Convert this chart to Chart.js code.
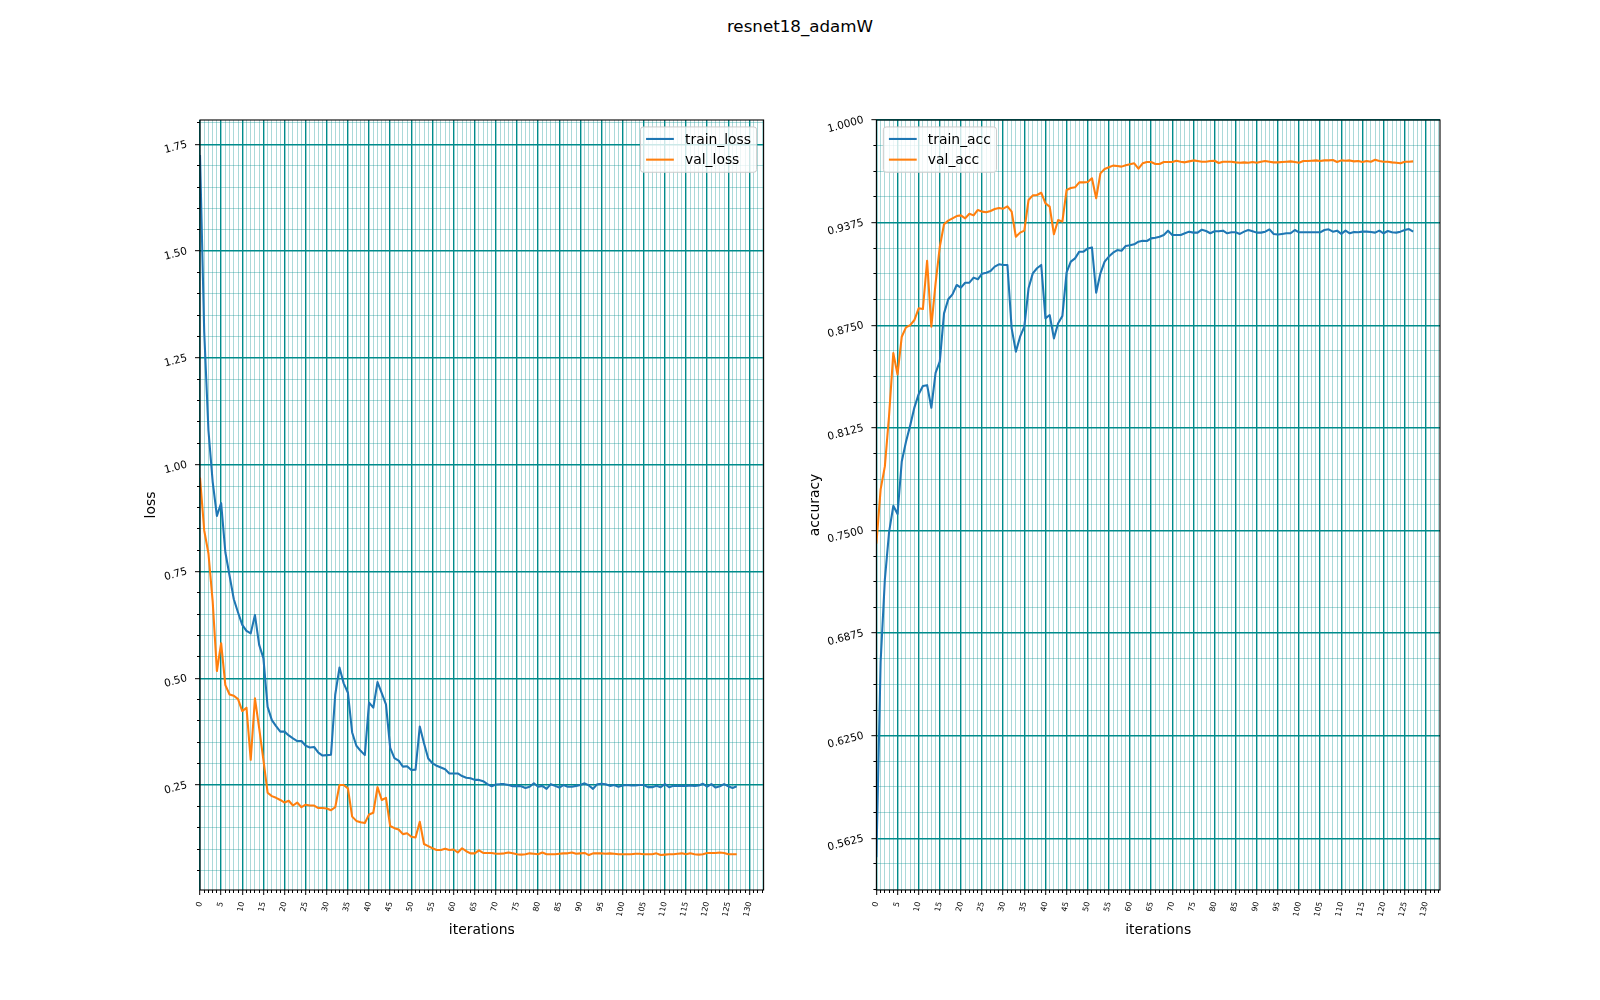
<!DOCTYPE html>
<html>
<head>
<meta charset="utf-8">
<script src="https://cdn.jsdelivr.net/npm/chart.js@4.4.1/dist/chart.umd.min.js"></script>
<style>
  body { margin: 0; background: #fff; }
  #fig { position: relative; width: 1600px; height: 1000px; font-family: 'DejaVu Sans', sans-serif; }
  #title { position: absolute; top: 16px; left: 0; width: 1600px; text-align: center; font-size: 16.7px; line-height: 20px; color: #000; }
  .panel { position: absolute; top: 0; width: 800px; height: 1000px; }
</style>
</head>
<body>
<div id="fig">
  <div id="title">resnet18_adamW</div>
  <div class="panel" style="left:0"><canvas id="loss-chart" width="800" height="1000"></canvas></div>
  <div class="panel" style="left:800px"><canvas id="acc-chart" width="800" height="1000"></canvas></div>
</div>
<script>
// values
const trainLoss = [1.725, 1.31, 1.08, 0.96, 0.88, 0.91, 0.795, 0.74, 0.685, 0.654,
  0.625, 0.611, 0.605, 0.648, 0.578, 0.547, 0.433, 0.402, 0.388, 0.375,
  0.375, 0.366, 0.359, 0.353, 0.353, 0.342, 0.338, 0.339, 0.326, 0.319,
  0.320, 0.321, 0.462, 0.525, 0.488, 0.466, 0.373, 0.342, 0.330, 0.320,
  0.443, 0.431, 0.491, 0.465, 0.439, 0.337, 0.313, 0.307, 0.293, 0.294,
  0.285, 0.286, 0.387, 0.348, 0.312, 0.301, 0.295, 0.291, 0.287, 0.277,
  0.277, 0.277, 0.271, 0.267, 0.266, 0.262, 0.262, 0.259, 0.252, 0.247,
  0.251, 0.252, 0.252, 0.250, 0.247, 0.248, 0.247, 0.243, 0.246, 0.254,
  0.246, 0.248, 0.241, 0.252, 0.248, 0.244, 0.250, 0.246, 0.246, 0.248,
  0.250, 0.254, 0.249, 0.241, 0.252, 0.253, 0.252, 0.248, 0.250, 0.246,
  0.249, 0.250, 0.249, 0.249, 0.250, 0.250, 0.245, 0.245, 0.248, 0.245,
  0.252, 0.245, 0.248, 0.248, 0.248, 0.248, 0.249, 0.248, 0.249, 0.253,
  0.246, 0.252, 0.244, 0.247, 0.252, 0.247, 0.243, 0.247];

const valLoss = [0.97, 0.846, 0.792, 0.68, 0.517, 0.582, 0.484, 0.462, 0.459, 0.451,
  0.423, 0.431, 0.309, 0.453, 0.383, 0.309, 0.232, 0.224, 0.220, 0.215,
  0.209, 0.213, 0.202, 0.209, 0.198, 0.204, 0.202, 0.202, 0.196, 0.196,
  0.195, 0.191, 0.198, 0.250, 0.250, 0.242, 0.176, 0.166, 0.163, 0.161,
  0.181, 0.185, 0.245, 0.215, 0.220, 0.154, 0.149, 0.146, 0.135, 0.137,
  0.129, 0.127, 0.164, 0.112, 0.107, 0.102, 0.098, 0.098, 0.101, 0.098,
  0.099, 0.092, 0.102, 0.095, 0.090, 0.090, 0.097, 0.091, 0.091, 0.091,
  0.089, 0.089, 0.090, 0.092, 0.090, 0.088, 0.087, 0.088, 0.090, 0.089,
  0.088, 0.092, 0.088, 0.088, 0.088, 0.089, 0.090, 0.090, 0.092, 0.089,
  0.090, 0.091, 0.086, 0.090, 0.090, 0.090, 0.089, 0.090, 0.089, 0.088,
  0.088, 0.088, 0.088, 0.089, 0.089, 0.088, 0.088, 0.088, 0.090, 0.086,
  0.087, 0.088, 0.088, 0.089, 0.090, 0.088, 0.090, 0.088, 0.087, 0.088,
  0.091, 0.091, 0.091, 0.092, 0.091, 0.088, 0.088, 0.088];

const trainAcc = [0.551, 0.670, 0.720, 0.749, 0.765, 0.760, 0.792, 0.804, 0.814, 0.825,
  0.833, 0.838, 0.8385, 0.8247, 0.846, 0.853, 0.8822, 0.8908, 0.8938, 0.8995,
  0.8979, 0.9009, 0.9009, 0.9040, 0.9030, 0.9064, 0.9070, 0.9080, 0.9107, 0.9121,
  0.9117, 0.9117, 0.8731, 0.8589, 0.8680, 0.8741, 0.8975, 0.9066, 0.9097, 0.9117,
  0.8792, 0.8812, 0.8670, 0.8762, 0.8806, 0.9072, 0.9137, 0.9157, 0.9198, 0.9198,
  0.9218, 0.9224, 0.8948, 0.9066, 0.9137, 0.9168, 0.9192, 0.9208, 0.9204, 0.9233,
  0.9237, 0.9243, 0.9259, 0.9265, 0.9263, 0.9279, 0.9283, 0.9289, 0.9300, 0.9326,
  0.9300, 0.9300, 0.9300, 0.9310, 0.9320, 0.9314, 0.9314, 0.9332, 0.9324, 0.9310,
  0.9322, 0.9322, 0.9326, 0.9310, 0.9316, 0.9316, 0.9306, 0.9320, 0.9330, 0.9322,
  0.9314, 0.9314, 0.9320, 0.9334, 0.9306, 0.9302, 0.9306, 0.9310, 0.9310, 0.9330,
  0.9316, 0.9316, 0.9316, 0.9316, 0.9316, 0.9316, 0.9330, 0.9334, 0.9320, 0.9326,
  0.9306, 0.9326, 0.9310, 0.9318, 0.9316, 0.9320, 0.9320, 0.9318, 0.9314, 0.9326,
  0.9310, 0.9324, 0.9316, 0.9314, 0.9320, 0.9330, 0.9336, 0.9320];

const valAcc = [0.742, 0.775, 0.789, 0.820, 0.858, 0.845, 0.8680, 0.8737, 0.8751, 0.8782,
  0.8853, 0.8849, 0.9143, 0.8741, 0.9005, 0.9228, 0.9365, 0.9387, 0.9401, 0.9415,
  0.9419, 0.9401, 0.9429, 0.9419, 0.9452, 0.9442, 0.9438, 0.9446, 0.9458, 0.9464,
  0.9460, 0.9474, 0.9442, 0.9289, 0.9314, 0.9326, 0.9513, 0.9541, 0.9543, 0.9557,
  0.9492, 0.9472, 0.9304, 0.9391, 0.9381, 0.9574, 0.9586, 0.9590, 0.9620, 0.9620,
  0.9622, 0.9645, 0.9523, 0.9675, 0.9702, 0.9712, 0.9722, 0.9720, 0.9716, 0.9724,
  0.9730, 0.9736, 0.9704, 0.9736, 0.9744, 0.9744, 0.9732, 0.9732, 0.9744, 0.9744,
  0.9744, 0.9752, 0.9746, 0.9742, 0.9748, 0.9754, 0.9750, 0.9746, 0.9746, 0.9750,
  0.9752, 0.9738, 0.9746, 0.9746, 0.9746, 0.9742, 0.9740, 0.9742, 0.9740, 0.9744,
  0.9740, 0.9746, 0.9750, 0.9746, 0.9742, 0.9742, 0.9744, 0.9746, 0.9748, 0.9744,
  0.9740, 0.9750, 0.9750, 0.9752, 0.9754, 0.9750, 0.9754, 0.9754, 0.9756, 0.9744,
  0.9754, 0.9752, 0.9754, 0.9748, 0.9750, 0.9744, 0.9750, 0.9746, 0.9758, 0.9750,
  0.9746, 0.9746, 0.9742, 0.9740, 0.9736, 0.9746, 0.9746, 0.9748];

// x positions are the epoch indexes
const iterations = trainLoss.map((_, i) => i);

const lossMajorTicks = [0.25, 0.50, 0.75, 1.00, 1.25, 1.50, 1.75];
const accMajorTicks = [0.5625, 0.6250, 0.6875, 0.7500, 0.8125, 0.8750, 0.9375, 1.0000];

const X_MAX = 133.35;
const LOSS_MIN = 0.0042, LOSS_MAX = 1.807;
const ACC_MIN = 0.531, ACC_MAX = 1.0;

const MAJOR_GRID = '#008b8b';
const MINOR_GRID = 'rgba(0, 139, 139, 0.33)';
const FONT = 'DejaVu Sans';

Chart.defaults.font.family = FONT;
Chart.defaults.color = '#000';

function isMajor(v, step) {
  const r = v / step;
  return Math.abs(r - Math.round(r)) < 1e-6;
}

function ticksBetween(min, max, step) {
  const out = [];
  for (let k = Math.ceil(min / step - 1e-9); k * step <= max + 1e-9; k++) {
    out.push(+(k * step).toFixed(6));
  }
  return out;
}

const iterTicks = ticksBetween(0, X_MAX, 1);
const lossTicks = ticksBetween(LOSS_MIN, LOSS_MAX, (lossMajorTicks[1] - lossMajorTicks[0]) / 5);
const accTicks = ticksBetween(ACC_MIN, ACC_MAX, (accMajorTicks[1] - accMajorTicks[0]) / 4);

// draws all four spines over the lines, like matplotlib
const frame = {
  id: 'frame',
  afterDraw(chart) {
    const a = chart.chartArea, c = chart.ctx;
    c.save();
    c.strokeStyle = '#000';
    c.lineWidth = 1.1;
    c.strokeRect(a.left, a.top, a.right - a.left, a.bottom - a.top);
    c.restore();
  }
};

// matplotlib style legend box inside the axes
const boxLegend = {
  id: 'boxLegend',
  afterDraw(chart, args, opts) {
    const c = chart.ctx, area = chart.chartArea, sets = chart.data.datasets;
    const fs = 13.9, pad = 0.4 * fs, rowH = 20.7;
    c.save();
    c.font = fs + 'px "' + FONT + '"';
    const textW = Math.max(...sets.map(d => c.measureText(d.label).width));
    const w = pad + 2 * fs + 0.8 * fs + textW + pad;
    const h = 2 * 12.3 + rowH * (sets.length - 1);
    const x = opts.side === 'right' ? area.right - 0.5 * fs - w : area.left + 0.5 * fs;
    const y = area.top + 0.5 * fs;
    const r = 2.8;
    c.beginPath();
    c.moveTo(x + r, y);
    c.lineTo(x + w - r, y);
    c.arcTo(x + w, y, x + w, y + r, r);
    c.lineTo(x + w, y + h - r);
    c.arcTo(x + w, y + h, x + w - r, y + h, r);
    c.lineTo(x + r, y + h);
    c.arcTo(x, y + h, x, y + h - r, r);
    c.lineTo(x, y + r);
    c.arcTo(x, y, x + r, y, r);
    c.closePath();
    c.fillStyle = 'rgba(255,255,255,0.8)';
    c.fill();
    c.strokeStyle = '#cccccc';
    c.lineWidth = 1;
    c.stroke();
    sets.forEach((d, k) => {
      const ry = y + 12 + k * rowH;
      c.strokeStyle = d.borderColor;
      c.lineWidth = 2.08;
      c.beginPath();
      c.moveTo(x + pad, ry);
      c.lineTo(x + pad + 2 * fs, ry);
      c.stroke();
      c.fillStyle = '#000';
      c.textBaseline = 'middle';
      c.textAlign = 'left';
      c.fillText(d.label, x + pad + 2.8 * fs, ry + 1);
    });
    c.restore();
  }
};

function lineSet(label, data, color) {
  return {
    label: label,
    data: data,
    borderColor: color,
    backgroundColor: color,
    borderWidth: 2.08,
    pointRadius: 0,
    tension: 0,
    fill: false,
    borderJoinStyle: 'round'
  };
}

function makeChart(id, p) {
  return new Chart(document.getElementById(id), {
    type: 'line',
    data: {
      labels: iterations,
      datasets: [
        lineSet(p.names[0], p.series[0], '#1f77b4'),
        lineSet(p.names[1], p.series[1], '#ff7f0e')
      ]
    },
    options: {
      responsive: false,
      animation: false,
      layout: { padding: { top: 120, right: p.padRight, left: 0, bottom: 0 } },
      plugins: {
        legend: { display: false },
        tooltip: { enabled: false },
        boxLegend: { side: p.legendSide }
      },
      scales: {
        x: {
          type: 'linear',
          min: 0,
          max: X_MAX,
          afterBuildTicks: s => { s.ticks = iterTicks.map(v => ({ value: v })); },
          afterFit: s => { s.height = 110; },
          ticks: {
            autoSkip: false,
            minRotation: 78,
            maxRotation: 78,
            padding: 6,
            color: '#000',
            font: { size: 7.8 },
            callback: v => isMajor(v, 5) ? String(v) : ''
          },
          grid: {
            color: c => (c.tick && isMajor(c.tick.value, 5)) ? MAJOR_GRID : MINOR_GRID,
            lineWidth: c => (c.tick && isMajor(c.tick.value, 5)) ? 1.4 : 1,
            tickLength: 5,
            tickColor: '#000',
            tickWidth: 1,
            tickBorderDash: c => (c.tick && isMajor(c.tick.value, 5)) ? [] : [3, 20]
          },
          border: { display: false },
          title: {
            display: true,
            text: 'iterations',
            color: '#000',
            font: { size: 13.9 },
            padding: { top: 0, bottom: 61 }
          }
        },
        y: {
          type: 'linear',
          min: p.yMin,
          max: p.yMax,
          afterBuildTicks: s => { s.ticks = p.yTicks.map(v => ({ value: v })); },
          afterFit: s => { s.width = p.yWidth; },
          ticks: {
            autoSkip: false,
            minRotation: 15,
            maxRotation: 15,
            padding: 8,
            color: '#000',
            font: { size: 10.5 },
            callback: v => isMajor(v, p.yStep) ? v.toFixed(p.digits) : ''
          },
          grid: {
            color: c => (c.tick && isMajor(c.tick.value, p.yStep)) ? MAJOR_GRID : MINOR_GRID,
            lineWidth: c => (c.tick && isMajor(c.tick.value, p.yStep)) ? 1.4 : 1,
            tickLength: 5,
            tickColor: '#000',
            tickWidth: 1,
            tickBorderDash: c => (c.tick && isMajor(c.tick.value, p.yStep)) ? [] : [0, 2, 3, 20]
          },
          border: { display: false },
          title: {
            display: true,
            text: p.yTitle,
            color: '#000',
            font: { size: 13.9 },
            padding: { top: p.yTitlePad, bottom: 0 }
          }
        }
      }
    },
    plugins: [frame, boxLegend]
  });
}

const lossChart = makeChart('loss-chart', {
  names: ['train_loss', 'val_loss'],
  series: [trainLoss, valLoss],
  yMin: LOSS_MIN, yMax: LOSS_MAX,
  yTicks: lossTicks, yStep: lossMajorTicks[1] - lossMajorTicks[0], digits: 2,
  yTitle: 'loss', yTitlePad: 142.6, yWidth: 200, padRight: 36.4,
  legendSide: 'right'
});

const accChart = makeChart('acc-chart', {
  names: ['train_acc', 'val_acc'],
  series: [trainAcc, valAcc],
  yMin: ACC_MIN, yMax: ACC_MAX,
  yTicks: accTicks, yStep: accMajorTicks[1] - accMajorTicks[0], digits: 4,
  yTitle: 'accuracy', yTitlePad: 6.7, yWidth: 76.4, padRight: 160,
  legendSide: 'left'
});
</script>
</body>
</html>
